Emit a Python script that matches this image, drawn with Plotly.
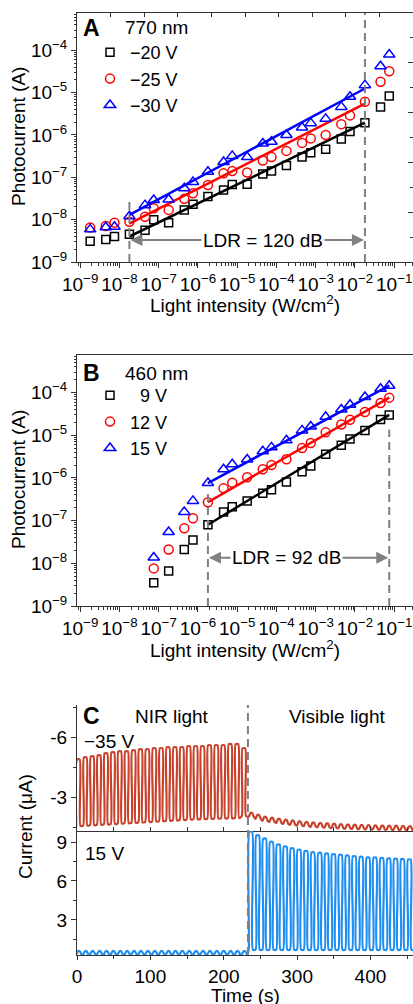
import numpy as np
import plotly.graph_objects as go

W, H = 413, 1004
FONT = "Liberation Sans, Arial, sans-serif"

# ---------------- Panel A : 770 nm ----------------
intensity_a = [1.8e-9, 4.5e-9, 7.5e-9, 1.8e-8, 4.5e-8, 7.5e-8, 1.8e-7, 4.5e-7,
               7.5e-7, 1.8e-6, 4.5e-6, 7.5e-6, 1.8e-5, 4.5e-5, 7.5e-5, 1.8e-4,
               4.5e-4, 7.5e-4, 1.8e-3, 4.5e-3, 7.5e-3, 1.8e-2, 4.5e-2, 7.5e-2]
a_m20 = [3.1e-9, 3.4e-9, 4.0e-9, 4.5e-9, 5.6e-9, 1.0e-8, 8.5e-9, 1.7e-8, 2.3e-8,
         3.5e-8, 5.0e-8, 6.8e-8, 6.9e-8, 1.2e-7, 1.4e-7, 1.9e-7, 3.0e-7, 3.8e-7,
         4.6e-7, 8.0e-7, 1.2e-6, 1.95e-6, 4.6e-6, 8.3e-6]
a_m25 = [6.5e-9, 7.1e-9, 8.5e-9, 8.9e-9, 1.17e-8, 1.85e-8, 1.7e-8, 3.1e-8, 4.2e-8,
         6.6e-8, 1.24e-7, 1.4e-7, 1.3e-7, 2.5e-7, 3.0e-7, 4.2e-7, 6.5e-7, 8.3e-7,
         1.0e-6, 1.8e-6, 2.9e-6, 6.1e-6, 1.8e-5, 3.2e-5]
a_m30 = [5.9e-9, 6.6e-9, 6.8e-9, 1.2e-8, 2.2e-8, 2.9e-8, 3.0e-8, 5.5e-8, 7.8e-8,
         1.35e-7, 2.3e-7, 3.2e-7, 3.0e-7, 6.3e-7, 6.9e-7, 1.0e-6, 1.5e-6, 1.9e-6,
         2.4e-6, 4.6e-6, 8.0e-6, 1.5e-5, 4.2e-5, 7.9e-5]
fit_x_a = [1.8e-8, 1.8e-2]
fit_a_m20 = [4.0e-9, 1.95e-6]
fit_a_m25 = [8.1e-9, 5.5e-6]
fit_a_m30 = [1.3e-8, 1.25e-5]
ldr_a_x = [1.8e-8, 1.8e-2]
ldr_a_top = [2.6e-8, 7.6e-4]
ldr_a_arrow_y = 3.3e-9
ldr_a_label_x = 4.6e-5

# ---------------- Panel B : 460 nm ----------------
intensity_b = [7.5e-8, 1.8e-7, 4.5e-7, 7.5e-7, 1.8e-6, 4.5e-6, 7.5e-6, 1.8e-5,
               4.5e-5, 7.5e-5, 1.8e-4, 4.5e-4, 7.5e-4, 1.8e-3, 4.5e-3, 7.5e-3,
               1.8e-2, 4.5e-2, 7.5e-2]
b_9 = [3.5e-9, 6.6e-9, 2.1e-8, 3.5e-8, 8.0e-8, 1.6e-7, 2.1e-7, 2.9e-7, 4.4e-7,
       5.3e-7, 8.0e-7, 1.4e-6, 1.9e-6, 3.6e-6, 5.8e-6, 8.2e-6, 1.3e-5, 2.35e-5, 3.0e-5]
b_12 = [7.6e-9, 2.1e-8, 6.6e-8, 1.14e-7, 2.7e-7, 5.7e-7, 7.7e-7, 1.04e-6, 1.6e-6,
        2.0e-6, 2.75e-6, 5.0e-6, 6.6e-6, 1.17e-5, 1.78e-5, 2.3e-5, 3.5e-5, 5.7e-5, 7.6e-5]
b_15 = [1.37e-8, 5.4e-8, 1.6e-7, 2.9e-7, 7.6e-7, 1.6e-6, 2.1e-6, 2.7e-6, 4.2e-6,
        5.2e-6, 7.6e-6, 1.3e-5, 1.6e-5, 2.7e-5, 4.0e-5, 5.2e-5, 7.9e-5, 1.23e-4, 1.45e-4]
fit_x_b = [1.8e-6, 7.5e-2]
fit_b_9 = [8.0e-8, 3.0e-5]
fit_b_12 = [2.7e-7, 7.6e-5]
fit_b_15 = [7.6e-7, 1.45e-4]
ldr_b_x = [1.8e-6, 7.5e-2]
ldr_b_top = [5.5e-7, 1.35e-5]
ldr_b_arrow_y = 1.35e-8
ldr_b_label_x = 1.8e-4

# ---------------- Panel C : switching ----------------
t_switch = 233
period = 9.4
nir_red_high = [-4.9, -5.0, -5.05, -5.1, -5.2, -5.25, -5.3, -5.3, -5.35, -5.4, -5.4,
                -5.45, -5.45, -5.5, -5.5, -5.5, -5.55, -5.55, -5.55, -5.6, -5.6,
                -5.6, -5.65, -5.65, -5.45]
nir_red_low = [-1.6, -1.62, -1.64, -1.66, -1.68, -1.7, -1.72, -1.74, -1.76, -1.78,
               -1.8, -1.82, -1.84, -1.86, -1.88, -1.9, -1.92, -1.94, -1.95, -1.96,
               -1.97, -1.98, -1.99, -2.0, -2.1]
vis_red_high = [-2.25, -2.15, -2.05, -2.0, -1.95, -1.9, -1.86, -1.82, -1.79, -1.76,
                -1.74, -1.72, -1.7, -1.68, -1.66, -1.65, -1.64, -1.63, -1.62, -1.61,
                -1.6, -1.6, -1.59, -1.58, -1.58]
vis_red_low = [-2.05, -1.95, -1.85, -1.8, -1.75, -1.7, -1.66, -1.62, -1.59, -1.56,
               -1.54, -1.52, -1.5, -1.48, -1.47, -1.46, -1.45, -1.44, -1.43, -1.42,
               -1.42, -1.41, -1.41, -1.4, -1.4]
nir_blue_high = [0.6] * 25
nir_blue_low = [0.35] * 25
vis_blue_high = [9.8, 9.5, 9.25, 9.0, 8.8, 8.65, 8.5, 8.4, 8.3, 8.2, 8.15, 8.1, 8.05,
                 8.0, 7.95, 7.9, 7.85, 7.8, 7.8, 7.75, 7.72, 7.7, 7.68, 7.65, 7.62]
vis_blue_low = [0.7] * 25

BLACK, RED, BLUE = "#000000", "#ff0000", "#0000ff"
C_RED, C_BLUE = "#c8412b", "#1f8ef1"
GRAY = "#808080"


def pulses(t0, per, highs, lows, edge=1.0):
    t, y = [], []
    for k, (hi, lo) in enumerate(zip(highs, lows)):
        s = t0 + k * per
        t += [s, s + edge, s + per / 2, s + per / 2 + edge]
        y += [lo, hi, hi, lo]
    return t, y


fig = go.Figure()

series_a = [("−20 V", a_m20, fit_a_m20, BLACK, "square-open", 8),
            ("−25 V", a_m25, fit_a_m25, RED, "circle-open", 9),
            ("−30 V", a_m30, fit_a_m30, BLUE, "triangle-up-open", 10)]
for name, vals, fit, col, sym, sz in series_a:
    fig.add_trace(go.Scatter(x=fit_x_a, y=fit, mode="lines", line=dict(color=col, width=2.5),
                             showlegend=False, xaxis="x", yaxis="y"))
    fig.add_trace(go.Scatter(x=intensity_a, y=vals, mode="markers", name=name,
                             marker=dict(symbol=sym, size=sz, color=col, line=dict(width=1.5, color=col)),
                             xaxis="x", yaxis="y", legend="legend"))
for xv, top in zip(ldr_a_x, ldr_a_top):
    fig.add_trace(go.Scatter(x=[xv, xv], y=[1e-9, top], mode="lines", showlegend=False,
                             line=dict(color=GRAY, width=2, dash="8px,5px"), xaxis="x", yaxis="y"))

series_b = [("\u20079 V", b_9, fit_b_9, BLACK, "square-open", 8),
            ("12 V", b_12, fit_b_12, RED, "circle-open", 9),
            ("15 V", b_15, fit_b_15, BLUE, "triangle-up-open", 10)]
for name, vals, fit, col, sym, sz in series_b:
    fig.add_trace(go.Scatter(x=fit_x_b, y=fit, mode="lines", line=dict(color=col, width=2.5),
                             showlegend=False, xaxis="x2", yaxis="y2"))
    fig.add_trace(go.Scatter(x=intensity_b, y=vals, mode="markers", name=name,
                             marker=dict(symbol=sym, size=sz, color=col, line=dict(width=1.5, color=col)),
                             xaxis="x2", yaxis="y2", legend="legend2"))
for xv, top in zip(ldr_b_x, ldr_b_top):
    fig.add_trace(go.Scatter(x=[xv, xv], y=[1e-9, top], mode="lines", showlegend=False,
                             line=dict(color=GRAY, width=2, dash="8px,5px"), xaxis="x2", yaxis="y2"))

# panel C traces
t1, y1 = pulses(-1.0, period, nir_red_high, nir_red_low)
t2, y2 = pulses(t_switch + 1, period, vis_red_high, vis_red_low, edge=2.5)
fig.add_trace(go.Scatter(x=t1 + t2, y=y1 + y2, mode="lines", line=dict(color=C_RED, width=2.2, shape="spline", smoothing=0.6),
                         showlegend=False, xaxis="x3", yaxis="y3"))
t3, y3 = pulses(-1.0, period, nir_blue_high, nir_blue_low, edge=2.5)
t4, y4 = pulses(t_switch + 1, period, vis_blue_high, vis_blue_low)
fig.add_trace(go.Scatter(x=t3 + t4, y=y3 + y4, mode="lines", line=dict(color=C_BLUE, width=2.2, shape="spline", smoothing=0.6),
                         showlegend=False, xaxis="x4", yaxis="y4"))

# dummy trace for extra tick axes of panel A
fig.add_trace(go.Scatter(x=[None], y=[None], xaxis="x5", yaxis="y5", showlegend=False, hoverinfo="skip"))

xdom = [77 / W, 1.0]
def ydom(top, bot):
    return [1 - bot / H, 1 - top / H]

dec_x = [10.0 ** e for e in range(-9, 0)]
dec_y = [10.0 ** e for e in range(-9, -3)]
minor_x = [k * 10.0 ** e for e in range(-10, 0) for k in range(2, 10)]
tick_font = dict(family=FONT, size=19, color="#000")

def log_x(anchor):
    return dict(type="log", domain=xdom, anchor=anchor, range=[-9.08, -0.52],
                tickmode="array", tickvals=dec_x, tickangle=0,
                ticktext=["10<sup>−%d</sup>" % -int(round(np.log10(v))) for v in dec_x],
                ticks="outside", ticklen=5, tickwidth=1, tickcolor="#333",
                minor=dict(tickmode="array", tickvals=minor_x, ticks="outside", ticklen=2.5, tickcolor="#333"),
                showline=True, linecolor="#333", linewidth=1, showgrid=False, zeroline=False,
                tickfont=tick_font)

def log_y(anchor, dom):
    return dict(type="log", domain=dom, anchor=anchor, range=[-9, -3.12],
                tickmode="array", tickvals=dec_y,
                ticktext=["10<sup>−%d</sup>" % -int(round(np.log10(v))) for v in dec_y],
                ticks="outside", ticklen=5, tickwidth=1, tickcolor="#333",
                minor=dict(tickmode="array", tickvals=minor_x, ticks="outside", ticklen=2.5, tickcolor="#333"),
                showline=True, linecolor="#333", linewidth=1, showgrid=False, zeroline=False,
                tickfont=tick_font)

dom_a = ydom(13, 262)
dom_b = ydom(355, 606)
dom_c1 = ydom(705, 831)
dom_c2 = ydom(831, 955)

xa = log_x("y")
xa["mirror"] = True
ya = log_y("x", dom_a)
xb = log_x("y2")
xb["mirror"] = True
yb = log_y("x2", dom_b)

lin = dict(showline=True, linecolor="#333", linewidth=1, showgrid=False, zeroline=False,
           tickfont=tick_font, tickcolor="#333")

fig.update_layout(
    width=W, height=H, margin=dict(l=0, r=0, t=0, b=0, autoexpand=False),
    paper_bgcolor="white", plot_bgcolor="white",
    font=dict(family=FONT, size=19, color="#000"),
    xaxis=xa, yaxis=ya, xaxis2=xb, yaxis2=yb,
    xaxis3=dict(domain=xdom, anchor="y3", range=[0, 458], tickvals=[50, 100, 150, 200, 250, 300, 350, 400, 450],
                ticks="inside", ticklen=4, showticklabels=False, **lin),
    yaxis3=dict(domain=dom_c1, anchor="x3", range=[-1.35, -7.6], tickvals=[-6, -3], ticktext=["-6", "-3"],
                ticks="outside", ticklen=5,
                minor=dict(tickvals=[-7.5, -4.5, -1.5], ticks="outside", ticklen=3, tickcolor="#333"), **lin),
    xaxis4=dict(domain=xdom, anchor="y4", range=[0, 458], tickvals=[0, 100, 200, 300, 400], tickangle=0,
                ticks="outside", ticklen=4,
                minor=dict(tickvals=[50, 150, 250, 350, 450], ticks="outside", ticklen=3, tickcolor="#333"), **lin),
    yaxis4=dict(domain=dom_c2, anchor="x4", range=[0.3, 9.85], tickvals=[3, 6, 9],
                ticks="outside", ticklen=5,
                minor=dict(tickvals=[1.5, 4.5, 7.5], ticks="outside", ticklen=3, tickcolor="#333"), **lin),
    xaxis5=dict(overlaying="x", side="top", anchor="y", range=[0, 10], dtick=1, ticks="inside", ticklen=4,
                showticklabels=False, showgrid=False, zeroline=False, showline=False, tickcolor="#333"),
    yaxis5=dict(overlaying="y", side="right", anchor="x", range=[0, 10], dtick=2, ticks="inside", ticklen=5,
                minor=dict(dtick=1, ticks="inside", ticklen=3, tickcolor="#333"),
                showticklabels=False, showgrid=False, zeroline=False, showline=False, tickcolor="#333"),
    legend=dict(x=90 / W, y=1 - 34 / H, xanchor="left", yanchor="top", bgcolor="rgba(0,0,0,0)",
                font=dict(family=FONT, size=18), itemwidth=30, tracegroupgap=0),
    legend2=dict(x=90 / W, y=1 - 377 / H, xanchor="left", yanchor="top", bgcolor="rgba(0,0,0,0)",
                 font=dict(family=FONT, size=18), itemwidth=30, tracegroupgap=0),
    showlegend=True,
)

# dashed separator in panel C
fig.add_shape(type="line", xref="x4", yref="paper", x0=t_switch, x1=t_switch,
              y0=dom_c2[0], y1=dom_c1[1], line=dict(color=GRAY, width=2, dash="8px,5px"))

ann = []
def txt(x, y, s, size=19, bold=False, anchor="left", angle=0):
    ann.append(dict(x=x / W, y=1 - y / H, xref="paper", yref="paper", text=("<b>%s</b>" % s) if bold else s,
                    showarrow=False, xanchor=anchor, yanchor="middle", textangle=angle,
                    font=dict(family=FONT, size=size, color="#000")))

txt(81, 28, "A", size=23, bold=True)
txt(123, 28, "770 nm")
txt(81, 373, "B", size=23, bold=True)
txt(123, 373, "460 nm")
txt(81, 716, "C", size=23, bold=True)
txt(172, 716, "NIR light", anchor="center")
txt(337, 716, "Visible light", anchor="center")
txt(82, 741, "−35 V")
txt(83, 853, "15 V")
txt(18, 137, "Photocurrent (A)", anchor="center", angle=-90)
txt(18, 480, "Photocurrent (A)", anchor="center", angle=-90)
txt(25, 827, "Current (μA)", anchor="center", angle=-90)
txt(245, 304, "Light intensity (W/cm<sup>2</sup>)", anchor="center")
txt(245, 649, "Light intensity (W/cm<sup>2</sup>)", anchor="center")
txt(245, 995, "Time (s)", anchor="center")

# LDR arrows
for xref, yref, xs, yv, lab_x, lab in [("x", "y", ldr_a_x, ldr_a_arrow_y, ldr_a_label_x, "LDR = 120 dB"),
                                       ("x2", "y2", ldr_b_x, ldr_b_arrow_y, ldr_b_label_x, "LDR = 92 dB")]:
    for xe in xs:
        ann.append(dict(x=np.log10(xe), y=np.log10(yv), xref=xref, yref=yref, ax=np.log10(lab_x), ay=np.log10(yv),
                        axref=xref, ayref=yref, text="", showarrow=True, arrowhead=2, arrowsize=1.2,
                        arrowwidth=2, arrowcolor=GRAY, standoff=1))
    ann.append(dict(x=np.log10(lab_x), y=np.log10(yv), xref=xref, yref=yref, text=lab, showarrow=False,
                    bgcolor="white", font=dict(family=FONT, size=19, color="#000")))

fig.update_layout(annotations=ann)
# page body has a default 8px margin; remove it so the figure fills the window
fig.write_html("out.html", config={"displayModeBar": False},
               post_script="document.body.style.margin='0';document.body.style.overflow='hidden';")
